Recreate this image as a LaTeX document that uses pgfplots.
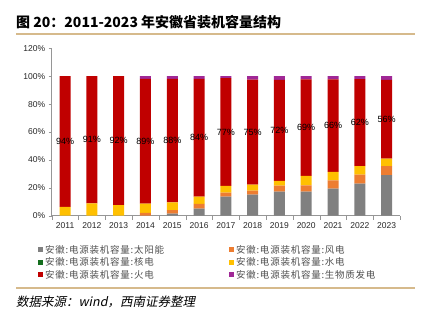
\documentclass[border=0pt]{standalone}
\usepackage{pgfplots}
\pgfplotsset{compat=1.18}
\usepackage{pgfplotstable}
\usepackage{fontspec}
\setmainfont{Liberation Sans}
\newfontfamily\cjk{Noto Sans CJK SC}
\newfontfamily\cjkleg{Noto Sans CJK SC}[LetterSpace=8]
\newfontfamily\cjkit{Noto Sans CJK SC}[FakeSlant=0.2]
\definecolor{cSolar}{RGB}{128,128,128}
\definecolor{cWind}{RGB}{237,125,49}
\definecolor{cNuc}{RGB}{20,110,30}
\definecolor{cHydro}{RGB}{255,192,0}
\definecolor{cTherm}{RGB}{192,0,0}
\definecolor{cBio}{RGB}{160,40,150}
\definecolor{cRule}{RGB}{214,186,140}
\definecolor{cAxis}{RGB}{150,150,150}
\definecolor{cLeg}{RGB}{80,80,80}
\pgfplotstableread{
x solar wind nuc hydro therm bio
0  0.0  0.0 0 6.3 93.7 0.0
1  0.0  0.0 0 8.8 91.2 0.0
2  0.0  0.0 0 7.6 92.4 0.0
3  0.0  2.0 0 6.6 89.4 2.0
4  1.4  2.6 0 5.6 88.4 2.0
5  5.0  3.4 0 5.3 84.4 1.9
6  13.7 2.8 0 4.8 77.3 1.4
7  15.1 2.9 0 4.2 75.4 2.4
8  17.3 4.3 0 3.4 72.4 2.6
9  17.3 4.5 0 6.7 69.3 2.2
10 19.4 6.0 0 6.0 66.4 2.2
11 23.0 6.5 0 6.0 62.4 2.1
12 29.0 6.5 0 5.5 56.4 2.6
}\datatable
\begin{document}
\begin{tikzpicture}[x=1pt,y=1pt]
\useasboundingbox (0,0) rectangle (421,323);
\begin{axis}[
  at={(51.7pt,107.3pt)}, anchor=south west,
  scale only axis, width=348.3pt, height=167.4pt,
  xmin=-0.5, xmax=12.5, ymin=0, ymax=120,
  ybar stacked, bar width=11pt,
  axis x line*=bottom, axis y line*=left,
  axis line style={cAxis},
  xtick={0,...,12},
  xticklabels={2011,2012,2013,2014,2015,2016,2017,2018,2019,2020,2021,2022,2023},
  minor xtick={-0.5,0.5,...,12.5},
  major x tick style={draw=none},
  minor x tick style={cAxis},
  ytick={0,20,...,120},
  yticklabel={\pgfmathprintnumber{\tick}\%},
  ytick style={cAxis},
  tick align=outside,
  major tick length=3pt, minor tick length=4pt,
  tick label style={font=\fontsize{8.5}{10}\selectfont, text=black!85},
  /pgf/number format/assume math mode=true,
  legend columns=2,
  legend cell align=left,
  legend style={at={(-0.048,-0.15)}, anchor=north west, draw=none, fill=none,
    font=\cjkleg\fontsize{9.5}{10}\selectfont, text=cLeg,
    /tikz/every even column/.append style={column sep=63pt},
    row sep=-1pt},
  legend image code/.code={\fill[#1] (0pt,-2.5pt) rectangle (5pt,2.5pt);},
]
\addplot[fill=cSolar, draw=none] table[x=x,y=solar]{\datatable};
\addplot[fill=cWind, draw=none] table[x=x,y=wind]{\datatable};
\addplot[fill=cNuc, draw=none] table[x=x,y=nuc]{\datatable};
\addplot[fill=cHydro, draw=none] table[x=x,y=hydro]{\datatable};
\addplot[fill=cTherm, draw=none,
  point meta=explicit,
  nodes near coords={\pgfmathprintnumber[fixed,precision=0]{\pgfplotspointmeta}\%},
  every node near coord/.append style={anchor=center,
    font=\fontsize{9}{10}\selectfont, text=black, inner sep=0pt}
  ] table[x=x,y=therm,meta=therm]{\datatable};
\addplot[fill=cBio, draw=none] table[x=x,y=bio]{\datatable};
\legend{安徽:电源装机容量:太阳能,安徽:电源装机容量:风电,安徽:电源装机容量:核电,安徽:电源装机容量:水电,安徽:电源装机容量:火电,安徽:电源装机容量:生物质发电}
\end{axis}
\node[anchor=west, inner sep=0pt, font=\cjk\bfseries\fontsize{14}{16}\selectfont] at (16,301) {图 20：2011-2023 年安徽省装机容量结构};
\draw[cRule, line width=2pt] (16,288.7) -- (415,288.7);
\draw[cRule, line width=2pt] (16,35.3) -- (415,35.3);
\node[anchor=west, inner sep=0pt, font=\cjkit\fontsize{12.5}{14}\selectfont] at (16,21) {数据来源：wind，西南证券整理};
\end{tikzpicture}
\end{document}
